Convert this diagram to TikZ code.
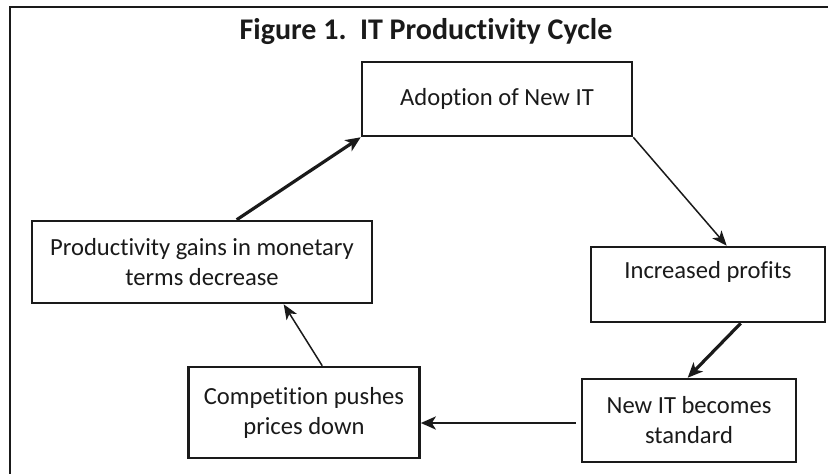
\documentclass[tikz,border=0pt]{standalone}
\usepackage{fontspec}
\setmainfont{Carlito}[Ligatures={NoCommon,NoRequired,NoContextual}]
\usetikzlibrary{arrows.meta,calc}
\definecolor{ink}{HTML}{1A1A1A}
\tikzset{
  box/.style={draw=ink, line width=2.6pt, rectangle, inner sep=0pt, align=center,
    text=ink, font=\fontsize{24.6}{30}\selectfont},
  thin arrow/.style={draw=ink, line width=1.5pt, -{Stealth[length=15pt,width=12pt,inset=4pt]}},
  thick arrow/.style={draw=ink, line width=3.2pt, -{Stealth[length=15pt,width=13pt,inset=4pt]}},
  mid arrow/.style={draw=ink, line width=2.8pt, -{Stealth[length=15pt,width=13pt,inset=4pt]}},
}
\begin{document}
\begin{tikzpicture}[x=1pt,y=-1pt]
\useasboundingbox (0,0) rectangle (828,474);
\clip (0,0) rectangle (828,474);
\fill[white] (0,0) rectangle (828,474);
% frame (right and bottom edges fall outside the picture)
\draw[ink, line width=2.6pt] (10,600) -- (10,7) -- (900,7);
% title
\node[text=ink, font=\fontsize{30}{36}\selectfont\bfseries] (title) at (426,32) {Figure 1.\ \ IT Productivity Cycle};
% boxes
\node[box, minimum width=270pt, minimum height=74pt] (adopt) at (497,99) {Adoption of New IT};
\node[box, minimum width=234pt, minimum height=75pt] (inc) at (708,284.5) {Increased profits\\\mbox{}};
\node[box, minimum width=214pt, minimum height=83pt] (std) at (689,420.5) {New IT becomes\\standard};
\node[box, minimum width=231pt, minimum height=91pt] (comp) at (304,412.5) {Competition pushes\\prices down};
\node[box, minimum width=340pt, minimum height=82pt] (prod) at (202,262) {Productivity gains in monetary\\terms decrease};
% connectors
\draw[thin arrow] (adopt.south east) -- ($(inc.north west)+(137,0)$);
\draw[thick arrow] ($(inc.south west)+(151,0)$) -- ($(std.north west)+(107,0)$);
\coordinate (stdl) at ($(std.west)+(-5,2.5)$);
\draw[mid arrow] (stdl) -- (comp.east |- stdl);
\draw[thin arrow] ($(comp.north west)+(135,0)$) -- ($(prod.south west)+(253,0)$);
\draw[thick arrow] ($(prod.north west)+(206,0)$) -- (adopt.south west);
\end{tikzpicture}
\end{document}
